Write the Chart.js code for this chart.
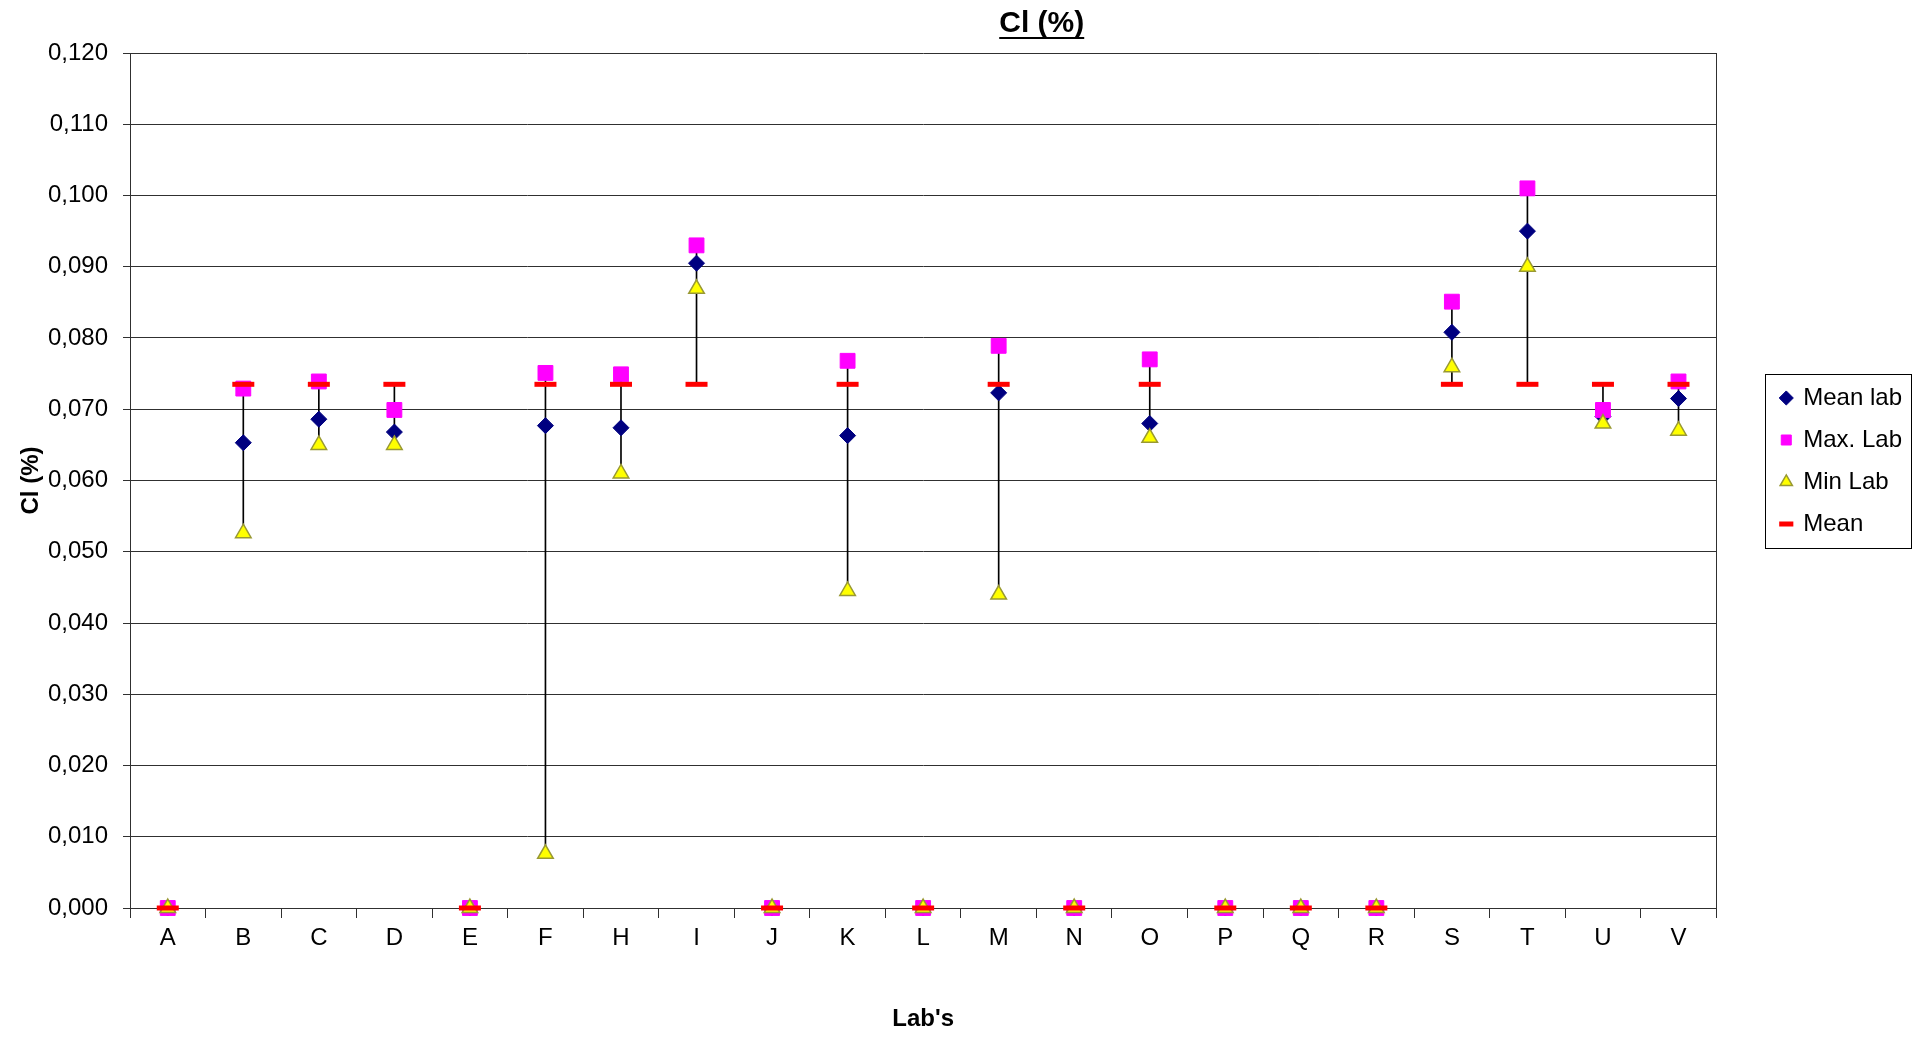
<!DOCTYPE html>
<html>
<head>
<meta charset="utf-8">
<title>Cl (%)</title>
<script src="https://cdn.jsdelivr.net/npm/chart.js@4.4.1/dist/chart.umd.min.js"></script>
<style>
  html, body { margin: 0; padding: 0; background: #fff; }
  #wrap { width: 1922px; height: 1037px; position: relative; }
</style>
</head>
<body>
<div id="wrap"><canvas id="clChart"></canvas></div>
<script>
// Labs on the x axis
const labs = ['A', 'B', 'C', 'D', 'E', 'F', 'H', 'I', 'J', 'K', 'L', 'M', 'N', 'O', 'P', 'Q', 'R', 'S', 'T', 'U', 'V'];

// Cl (%) results per lab
const meanLab     = [0, 0.0653, 0.0686, 0.0668, 0, 0.0677, 0.0674, 0.0905, 0, 0.0663, 0, 0.0723, 0, 0.0680, 0, 0, 0, 0.0808, 0.0950, 0.0690, 0.0715];
const maxLab      = [0, 0.0729, 0.0739, 0.0699, 0, 0.0751, 0.0749, 0.0930, 0, 0.0768, 0, 0.0789, 0, 0.0770, 0, 0, 0, 0.0851, 0.1010, 0.0699, 0.0739];
const minLab      = [0, 0.0526, 0.0650, 0.0650, 0, 0.0076, 0.0610, 0.0869, 0, 0.0445, 0, 0.0440, 0, 0.0660, 0, 0, 0, 0.0759, 0.0900, 0.0680, 0.0670];
const overallMean = [0, 0.0735, 0.0735, 0.0735, 0, 0.0735, 0.0735, 0.0735, 0, 0.0735, 0, 0.0735, 0, 0.0735, 0, 0, 0, 0.0735, 0.0735, 0.0735, 0.0735];

// value axis
const yMin = 0;
const yMax = 0.12;
const yStep = 0.01;

const chartTitle = 'Cl (%)';
const fontFamily = '"Liberation Sans", Arial, sans-serif';
const lineColor = '#303030';

// high-low line: spans every series at a lab
const highLow = labs.map((_, i) => {
  const vals = [meanLab[i], maxLab[i], minLab[i], overallMean[i]];
  const lo = Math.min(...vals);
  const hi = Math.max(...vals);
  return hi > lo ? [lo, hi] : null;
});

Chart.defaults.font.family = fontFamily;
Chart.defaults.color = '#000';

// bold underlined title, placed like the original (not centred on the canvas)
const titlePlugin = {
  id: 'underlinedTitle',
  afterDraw(chart) {
    const ctx = chart.ctx;
    const x = chart.width * 0.542;
    const y = 24;
    ctx.save();
    ctx.font = 'bold 30px ' + fontFamily;
    ctx.fillStyle = '#000';
    ctx.textAlign = 'center';
    ctx.textBaseline = 'middle';
    ctx.fillText(chartTitle, x, y);
    const w = ctx.measureText(chartTitle).width;
    ctx.fillRect(x - w / 2, y + 13, w, 2);
    ctx.restore();
  }
};

// frame round the legend entries
const legendFrame = {
  id: 'legendFrame',
  afterDraw(chart) {
    const lg = chart.legend;
    if (!lg || !lg.legendHitBoxes || !lg.legendHitBoxes.length) return;
    const boxes = lg.legendHitBoxes;
    const last = boxes[boxes.length - 1];
    const top = boxes[0].top - 12;
    const bottom = last.top + last.height + 12;
    const ctx = chart.ctx;
    ctx.save();
    ctx.strokeStyle = '#000';
    ctx.lineWidth = 1;
    ctx.strokeRect(Math.round(lg.left + 2) + 0.5, Math.round(top) + 0.5,
      Math.round(lg.right - lg.left - 3), Math.round(bottom - top));
    ctx.restore();
  }
};

const ctx = document.getElementById('clChart').getContext('2d');
new Chart(ctx, {
  type: 'line',
  data: {
    labels: labs,
    datasets: [
      {
        label: 'Mean lab',
        data: meanLab,
        showLine: false,
        clip: false,
        pointStyle: 'rectRot',
        pointRadius: 8,
        backgroundColor: '#000080',
        borderColor: '#000080',
        pointBorderWidth: 1,
        order: 3
      },
      {
        label: 'Max. Lab',
        data: maxLab,
        showLine: false,
        clip: false,
        pointStyle: 'rect',
        pointRadius: 10.5,
        backgroundColor: '#FF00FF',
        borderColor: '#FF00FF',
        pointBorderWidth: 1,
        order: 2
      },
      {
        label: 'Min Lab',
        data: minLab,
        showLine: false,
        clip: false,
        pointStyle: 'triangle',
        pointRadius: 9,
        backgroundColor: '#FFFF00',
        borderColor: '#999933',
        pointBorderWidth: 1.5,
        order: 1
      },
      {
        label: 'Mean',
        data: overallMean,
        showLine: false,
        clip: false,
        pointStyle: 'line',
        pointRadius: 11,
        backgroundColor: '#FF0000',
        borderColor: '#FF0000',
        pointBorderWidth: 5,
        borderWidth: 5,
        order: 0
      },
      {
        type: 'bar',
        label: 'range',
        data: highLow,
        backgroundColor: '#000',
        borderWidth: 0,
        barThickness: 1,
        order: 4
      }
    ]
  },
  options: {
    responsive: true,
    maintainAspectRatio: false,
    animation: false,
    layout: {
      padding: { top: 53, right: 10, bottom: 3, left: 0 }
    },
    scales: {
      x: {
        type: 'category',
        offset: true,
        grid: {
          offset: true,
          drawOnChartArea: false,
          drawTicks: true,
          tickLength: 10,
          color: lineColor
        },
        border: { color: lineColor, width: 1 },
        ticks: {
          autoSkip: false,
          maxRotation: 0,
          padding: 6,
          font: { size: 24 }
        },
        title: {
          display: true,
          text: "Lab's",
          font: { size: 24, weight: 'bold' },
          padding: { top: 0, bottom: 0 }
        },
        afterFit: (scale) => { scale.height = 126; }
      },
      y: {
        min: yMin,
        max: yMax,
        grid: {
          color: lineColor,
          tickLength: 7
        },
        border: { color: lineColor, width: 1 },
        ticks: {
          stepSize: yStep,
          padding: 15,
          font: { size: 24 },
          callback: (value) => value.toFixed(3).replace('.', ',')
        },
        title: {
          display: true,
          text: 'Cl (%)',
          font: { size: 24, weight: 'bold' },
          padding: { top: 17, bottom: 0 }
        },
        afterFit: (scale) => { scale.width = 130; }
      },
      // right frame of the plot area, also keeps the gap before the legend
      y2: {
        position: 'right',
        display: true,
        grid: { display: false },
        ticks: { display: false },
        border: { display: true, color: lineColor, width: 1 },
        afterFit: (scale) => { scale.width = 47; }
      }
    },
    plugins: {
      title: { display: false },
      tooltip: { enabled: false },
      legend: {
        position: 'right',
        align: 'start',
        // empty legend title only pushes the entries down to where the original has them
        title: {
          display: true,
          text: '',
          font: { size: 10 },
          padding: { top: 0, bottom: 303 }
        },
        labels: {
          usePointStyle: true,
          boxWidth: 10,
          boxHeight: 10,
          padding: 18,
          color: '#000',
          font: { size: 24 },
          filter: (item) => item.text !== 'range',
          sort: (a, b) => a.datasetIndex - b.datasetIndex
        }
      }
    }
  },
  plugins: [titlePlugin, legendFrame]
});
</script>
</body>
</html>
